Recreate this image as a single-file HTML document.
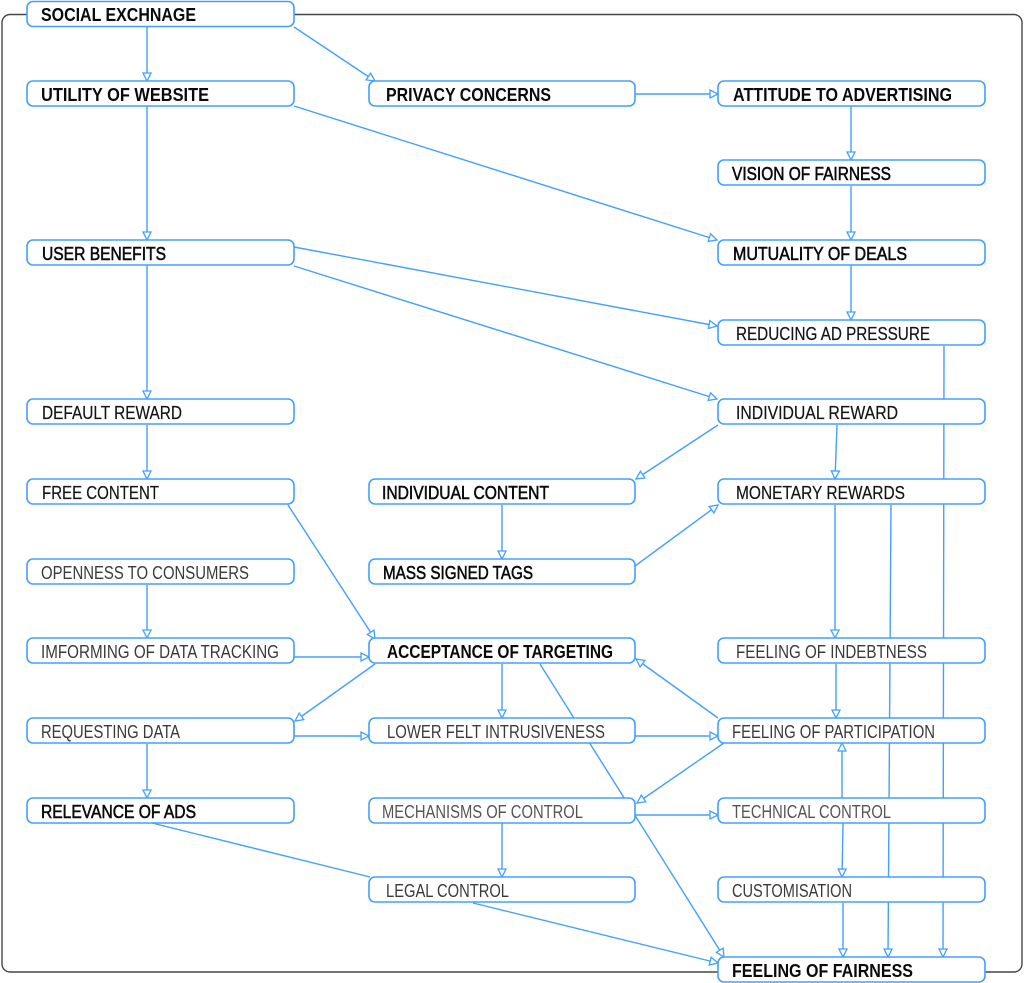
<!DOCTYPE html>
<html><head><meta charset="utf-8"><style>
html,body{margin:0;padding:0;background:#fff;}
svg{display:block;}
text{font-family:"Liberation Sans",Arial,sans-serif;font-size:18px;}
.b{font-weight:bold;fill:#0a0a0a;}
.m{font-weight:normal;fill:#0a0a0a;stroke:#0a0a0a;stroke-width:0.55;}
.r{font-weight:normal;fill:#151515;stroke:#151515;stroke-width:0.2;}
.l{font-weight:normal;fill:#3a3a3a;}
.t{font-weight:normal;fill:#555;}
</style></head><body>
<svg width="1024" height="983" viewBox="0 0 1024 983" xmlns="http://www.w3.org/2000/svg">
<defs>
<marker id="a" markerUnits="userSpaceOnUse" markerWidth="12" markerHeight="12" refX="9" refY="5" orient="auto">
<path d="M1,1 L9,5 L1,9 Z" fill="#fff" stroke="#42a0ff" stroke-width="1.3"/>
</marker>
</defs>
<rect x="2" y="14.5" width="1020" height="957.5" rx="8" fill="none" stroke="#474747" stroke-width="1.4"/>
<g stroke="#42a0ff" stroke-width="1.4" fill="none" marker-end="url(#a)">
<path d="M147,27 L147,81"/>
<path d="M294,27 L375,81"/>
<path d="M635,94 L718,94"/>
<path d="M851,106 L851,160"/>
<path d="M147,106 L147,240"/>
<path d="M294,106 L717,240"/>
<path d="M851,186 L851,240"/>
<path d="M851,265 L851,320"/>
<path d="M294,247 L717,326"/>
<path d="M294,266 L717,399"/>
<path d="M147,265 L147,399"/>
<path d="M147,425 L147,479"/>
<path d="M718,425 L636,479"/>
<path d="M837,425 L835,479"/>
<path d="M502,505 L502,559"/>
<path d="M635,566 L718,505"/>
<path d="M288,505 L375,639"/>
<path d="M147,585 L147,638"/>
<path d="M294,657 L369,657"/>
<path d="M375,664 L295,721"/>
<path d="M294,736 L369,736"/>
<path d="M502,664 L502,718"/>
<path d="M540,664 L724,957"/>
<path d="M718,718 L636,659"/>
<path d="M635,736 L718,736"/>
<path d="M724,743 L637,803"/>
<path d="M635,815 L718,815"/>
<path d="M502,823 L502,877"/>
<path d="M836,664 L836,718"/>
<path d="M835,505 L835,638"/>
<path d="M842,798 L842,743"/>
<path d="M843,823 L842,877"/>
<path d="M843,903 L843,957"/>
<path d="M891,505 L888,957"/>
<path d="M944,346 L943,957"/>
<path d="M147,744 L147,798"/>
<path d="M473,903 L718,963"/>
<path d="M152,823 L370,877" marker-end="none"/>
</g>
<g fill="#fff" stroke="#42a0ff" stroke-width="1.6">
<rect x="27" y="1.5" width="267" height="25" rx="6"/>
<rect x="27" y="81" width="267" height="25" rx="6"/>
<rect x="369" y="81" width="266" height="25" rx="6"/>
<rect x="718" y="81" width="267" height="25" rx="6"/>
<rect x="718" y="160" width="267" height="25" rx="6"/>
<rect x="27" y="240" width="267" height="25" rx="6"/>
<rect x="718" y="240" width="267" height="25" rx="6"/>
<rect x="718" y="320" width="267" height="25" rx="6"/>
<rect x="27" y="399" width="267" height="25" rx="6"/>
<rect x="718" y="399" width="267" height="25" rx="6"/>
<rect x="27" y="479" width="267" height="25" rx="6"/>
<rect x="369" y="479" width="266" height="25" rx="6"/>
<rect x="718" y="479" width="267" height="25" rx="6"/>
<rect x="27" y="559" width="267" height="25" rx="6"/>
<rect x="369" y="559" width="266" height="25" rx="6"/>
<rect x="27" y="638" width="267" height="25" rx="6"/>
<rect x="369" y="638" width="266" height="25" rx="6"/>
<rect x="718" y="638" width="267" height="25" rx="6"/>
<rect x="27" y="718" width="267" height="25" rx="6"/>
<rect x="369" y="718" width="266" height="25" rx="6"/>
<rect x="718" y="718" width="267" height="25" rx="6"/>
<rect x="27" y="798" width="267" height="25" rx="6"/>
<rect x="369" y="798" width="266" height="25" rx="6"/>
<rect x="718" y="798" width="267" height="25" rx="6"/>
<rect x="369" y="877" width="266" height="25" rx="6"/>
<rect x="718" y="877" width="267" height="25" rx="6"/>
<rect x="718" y="957" width="267" height="25" rx="6"/>
</g>
<g>
<text class="b" x="41" y="21" textLength="155" lengthAdjust="spacingAndGlyphs">SOCIAL EXCHNAGE</text>
<text class="b" x="41" y="101" textLength="168" lengthAdjust="spacingAndGlyphs">UTILITY OF WEBSITE</text>
<text class="b" x="386" y="101" textLength="165" lengthAdjust="spacingAndGlyphs">PRIVACY CONCERNS</text>
<text class="b" x="733" y="101" textLength="219" lengthAdjust="spacingAndGlyphs">ATTITUDE TO ADVERTISING</text>
<text class="m" x="732" y="180" textLength="159" lengthAdjust="spacingAndGlyphs">VISION OF FAIRNESS</text>
<text class="m" x="42" y="260" textLength="124" lengthAdjust="spacingAndGlyphs">USER BENEFITS</text>
<text class="m" x="733" y="260" textLength="174" lengthAdjust="spacingAndGlyphs">MUTUALITY OF DEALS</text>
<text class="r" x="736" y="340" textLength="194" lengthAdjust="spacingAndGlyphs">REDUCING AD PRESSURE</text>
<text class="r" x="42" y="419" textLength="140" lengthAdjust="spacingAndGlyphs">DEFAULT REWARD</text>
<text class="r" x="736" y="419" textLength="162" lengthAdjust="spacingAndGlyphs">INDIVIDUAL REWARD</text>
<text class="r" x="42" y="499" textLength="117" lengthAdjust="spacingAndGlyphs">FREE CONTENT</text>
<text class="m" x="382" y="499" textLength="167" lengthAdjust="spacingAndGlyphs">INDIVIDUAL CONTENT</text>
<text class="r" x="736" y="499" textLength="169" lengthAdjust="spacingAndGlyphs">MONETARY REWARDS</text>
<text class="l" x="41" y="579" textLength="208" lengthAdjust="spacingAndGlyphs">OPENNESS TO CONSUMERS</text>
<text class="m" x="383" y="579" textLength="150" lengthAdjust="spacingAndGlyphs">MASS SIGNED TAGS</text>
<text class="l" x="41" y="658" textLength="238" lengthAdjust="spacingAndGlyphs">IMFORMING OF DATA TRACKING</text>
<text class="b" x="387" y="658" textLength="226" lengthAdjust="spacingAndGlyphs">ACCEPTANCE OF TARGETING</text>
<text class="l" x="736" y="658" textLength="191" lengthAdjust="spacingAndGlyphs">FEELING OF INDEBTNESS</text>
<text class="l" x="41" y="738" textLength="139" lengthAdjust="spacingAndGlyphs">REQUESTING DATA</text>
<text class="l" x="387" y="738" textLength="218" lengthAdjust="spacingAndGlyphs">LOWER FELT INTRUSIVENESS</text>
<text class="l" x="732" y="738" textLength="203" lengthAdjust="spacingAndGlyphs">FEELING OF PARTICIPATION</text>
<text class="m" x="41" y="818" textLength="155" lengthAdjust="spacingAndGlyphs">RELEVANCE OF ADS</text>
<text class="t" x="382" y="818" textLength="201" lengthAdjust="spacingAndGlyphs">MECHANISMS OF CONTROL</text>
<text class="t" x="732" y="818" textLength="159" lengthAdjust="spacingAndGlyphs">TECHNICAL CONTROL</text>
<text class="l" x="386" y="897" textLength="123" lengthAdjust="spacingAndGlyphs">LEGAL CONTROL</text>
<text class="l" x="732" y="897" textLength="120" lengthAdjust="spacingAndGlyphs">CUSTOMISATION</text>
<text class="b" x="732" y="977" textLength="181" lengthAdjust="spacingAndGlyphs">FEELING OF FAIRNESS</text>
</g>
</svg>
</body></html>
